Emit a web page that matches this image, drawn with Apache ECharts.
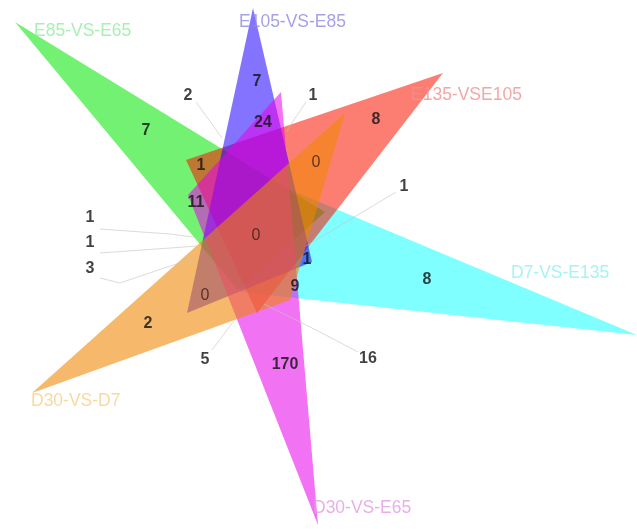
<!DOCTYPE html>
<html>
<head>
<meta charset="utf-8">
<script src="https://cdn.jsdelivr.net/npm/echarts@6/dist/echarts.min.js"></script>
<style>
  html, body { margin: 0; padding: 0; background: #ffffff; }
  #chart { width: 637px; height: 529px; }
</style>
</head>
<body>
<div id="chart"></div>
<script>
// Six comparison sets
const setNames = ['E85-VS-E65', 'E105-VS-E85', 'E135-VSE105', 'D7-VS-E135', 'D30-VS-D7', 'D30-VS-E65'];
const setFill = ['rgba(0,230,0,0.55)', 'rgba(30,0,255,0.55)', 'rgba(250,20,0,0.55)',
                 'rgba(0,255,255,0.5)', 'rgba(240,135,0,0.58)', 'rgba(230,0,235,0.55)'];
const setTextColor = ['#8fec9f', '#8f8ae0', '#f09090', '#8ef0f0', '#f6cf88', '#e49ae4'];
// Painting order of the triangles (later ones sit on top)
const paintOrder = [3, 0, 2, 1, 5, 4];

// Region counts
const regionCounts = [7, 2, 7, 1, 24, 8, 1, 0, 11, 1, 1, 0, 1, 3, 1, 8, 9, 0, 2, 5, 170, 16];

// Triangle outline for each set (drawing space 637 x 529)
const triangleShape = [
  [[15, 22], [325, 212], [238, 290]],
  [[253, 8], [312, 262], [187, 313]],
  [[443, 73], [186, 160], [257, 313]],
  [[637, 335], [262, 178], [240, 292]],
  [[32, 393], [345, 113], [290, 300]],
  [[318, 525], [281, 92], [188, 195]]
];
const setLabelPos = [[34, 31], [239, 22], [411, 95], [511, 273], [31, 401], [313, 508]];

// Where each count is written
const countPos = [
  [146, 131], [188, 96], [257, 82], [313, 96], [263, 123], [376, 120], [201, 166], [316, 163],
  [196, 203], [404, 187], [90, 218], [256, 236], [90, 243], [90, 269], [307, 260], [427, 280],
  [295, 287], [205, 296], [148, 324], [205, 360], [285, 365], [368, 359]
];
// Leader lines from outside counts to their small regions
const leaderLines = [
  [[196, 102], [222, 138]],
  [[306, 102], [286, 132]],
  [[396, 192], [306, 246]],
  [[100, 229], [170, 234], [200, 238]],
  [[100, 253], [170, 248], [198, 246]],
  [[100, 278], [120, 283], [194, 258]],
  [[212, 350], [236, 318]],
  [[358, 352], [316, 330], [264, 304]]
];

const chart = echarts.init(document.getElementById('chart'), null, { renderer: 'canvas' });

chart.setOption({
  animation: false,
  backgroundColor: '#ffffff',
  grid: { left: 0, right: 0, top: 0, bottom: 0 },
  xAxis: { type: 'value', min: 0, max: 637, show: false },
  yAxis: { type: 'value', min: 0, max: 529, inverse: true, show: false },
  series: [
    {
      type: 'custom',
      data: paintOrder.map(i => ({ value: [i], name: setNames[i] })),
      z: 1,
      renderItem: function (params, api) {
        const i = api.value(0);
        const pts = triangleShape[i].map(p => api.coord(p));
        return {
          type: 'polygon',
          shape: { points: pts },
          style: { fill: setFill[i], stroke: null }
        };
      }
    },
    {
      type: 'custom',
      data: leaderLines.map((l, i) => [i]),
      z: 2,
      renderItem: function (params, api) {
        const pts = leaderLines[params.dataIndex].map(p => api.coord(p));
        return {
          type: 'polyline',
          shape: { points: pts },
          style: { stroke: 'rgba(195,195,195,0.6)', lineWidth: 1, fill: null }
        };
      }
    },
    {
      type: 'scatter',
      symbolSize: 0,
      z: 3,
      data: setNames.map((n, i) => ({ value: setLabelPos[i], name: n, label: { color: setTextColor[i] } })),
      label: {
        show: true,
        position: 'inside',
        align: 'left',
        verticalAlign: 'middle',
        fontFamily: 'Liberation Sans, Arial, sans-serif',
        fontSize: 17.5,
        formatter: p => p.name
      }
    },
    {
      type: 'scatter',
      symbolSize: 0,
      z: 4,
      data: regionCounts.map((c, i) => ({
        value: [countPos[i][0], countPos[i][1], c],
        label: c === 0 ? { fontWeight: 'normal', color: '#3b1d12', fontSize: 16 } : {}
      })),
      label: {
        show: true,
        position: 'inside',
        align: 'center',
        verticalAlign: 'middle',
        fontFamily: 'Liberation Sans, Arial, sans-serif',
        fontSize: 16,
        fontWeight: 'bold',
        color: '#111111',
        formatter: p => String(p.value[2])
      }
    }
  ]
});
</script>
</body>
</html>
